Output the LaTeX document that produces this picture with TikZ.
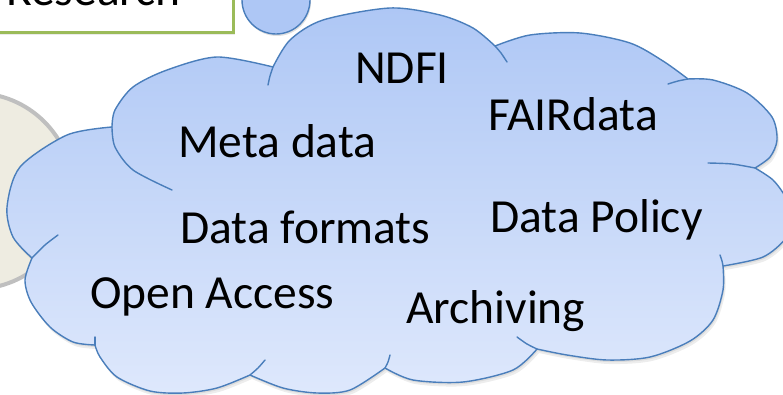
\documentclass[tikz,border=0pt]{standalone}
\usepackage{fontspec}
\setmainfont{Carlito}
\definecolor{cloudline}{RGB}{74,126,187}
\definecolor{cloudtop}{RGB}{174,199,245}
\definecolor{cloudbot}{RGB}{222,232,252}
\definecolor{beige}{RGB}{238,236,225}
\definecolor{beigeline}{RGB}{191,191,191}
\definecolor{boxgreen}{RGB}{155,187,89}
\tikzset{
  lbl/.style={anchor=base west, inner sep=0pt, font=\fontsize{47.5}{51}\selectfont},
  cloudedge/.style={draw=cloudline, line width=1.4pt, line join=round},
  inner/.style={draw=cloudline, line width=1.4pt, line cap=round},
}
\def\cloudpath{
  plot[smooth] coordinates {(112,127) (115,110) (133,87) (167,70) (217,57) (273,67)}
  -- plot[smooth] coordinates {(273,67) (290,40) (323,20) (390,8) (440,15) (473,28) (495,46)}
  -- plot[smooth] coordinates {(495,46) (530,35) (580,33) (630,43) (663,61) (688,79)}
  -- plot[smooth] coordinates {(688,79) (713,80) (747,93) (772,117) (777,140) (770,157) (755,168)}
  -- plot[smooth] coordinates {(755,168) (773,180) (786,198) (792,218) (786,238) (763,257) (723,266)}
  -- plot[smooth] coordinates {(723,266) (723,290) (713,320) (690,341) (650,357) (607,360) (567,355) (537,349)}
  -- plot[smooth] coordinates {(537,349) (513,370) (463,382) (413,380) (385,368)}
  -- plot[smooth] coordinates {(385,368) (350,390) (317,393) (283,388) (250,375)}
  -- plot[smooth] coordinates {(250,375) (217,388) (183,393) (150,391) (117,377) (100,357) (95,345)}
  -- plot[smooth] coordinates {(95,345) (73,342) (50,327) (31,302) (25,280) (32,258)}
  -- plot[smooth] coordinates {(32,258) (13,237) (7,207) (20,167) (67,135) (112,127)}
  -- cycle}
\begin{document}
\begin{tikzpicture}[x=1pt,y=-1pt]
\useasboundingbox (0,0) rectangle (783,394);
% beige circle behind
\draw[fill=beige, draw=beigeline, line width=4pt] (-25,191) circle[radius=98];
% green box
\fill[black, opacity=0.08] (-20,-80) rectangle (235,35);
\draw[fill=white, draw=boxgreen, line width=3pt] (-20,-80) rectangle (233,32);
\node[lbl] (research) at (6,5) {Research};
% small bubble
\fill[black, opacity=0.12] (277,2) circle[radius=34];
\draw[fill=cloudtop, draw=cloudline, line width=1.4pt] (276,0) circle[radius=34];
% cloud shadow
\fill[black, opacity=0.07, shift={(1,2)}] \cloudpath;
\fill[black, opacity=0.07, shift={(2,4)}] \cloudpath;
% cloud
\shade[top color=cloudtop, bottom color=cloudbot] \cloudpath;
\path[cloudedge] \cloudpath;
% inner arcs
\path[inner] plot[smooth] coordinates {(112,127) (115,147) (133,170) (172,190)};
\path[inner] plot[smooth] coordinates {(273,67) (270,76) (268,85)};
\path[inner] plot[smooth] coordinates {(495,46) (501,53) (507,62)};
\path[inner] plot[smooth] coordinates {(668,84) (678,81) (688,79)};
\path[inner] plot[smooth] coordinates {(708,163) (732,164) (755,168)};
\path[inner] plot[smooth] coordinates {(720,255) (722,261) (723,266)};
\path[inner] plot[smooth] coordinates {(517,337) (527,344) (537,349)};
\path[inner] plot[smooth] coordinates {(390,355) (388,362) (385,368)};
\path[inner] plot[smooth] coordinates {(265,360) (258,368) (250,375)};
\path[inner] plot[smooth] coordinates {(95,337) (95,341) (95,345)};
\path[inner] plot[smooth] coordinates {(32,258) (45,245) (58,235)};
% labels
\node[lbl] (ndfi) at (355,83) {NDFI};
\node[lbl] (fair) at (488,130) {FAIRdata};
\node[lbl] (meta) at (178,157) {Meta data};
\node[lbl] (formats) at (180,243) {Data formats};
\node[lbl] (policy) at (490,232) {Data Policy};
\node[lbl] (open) at (90,308) {Open Access};
\node[lbl] (arch) at (406,323) {Archiving};
\end{tikzpicture}
\end{document}
